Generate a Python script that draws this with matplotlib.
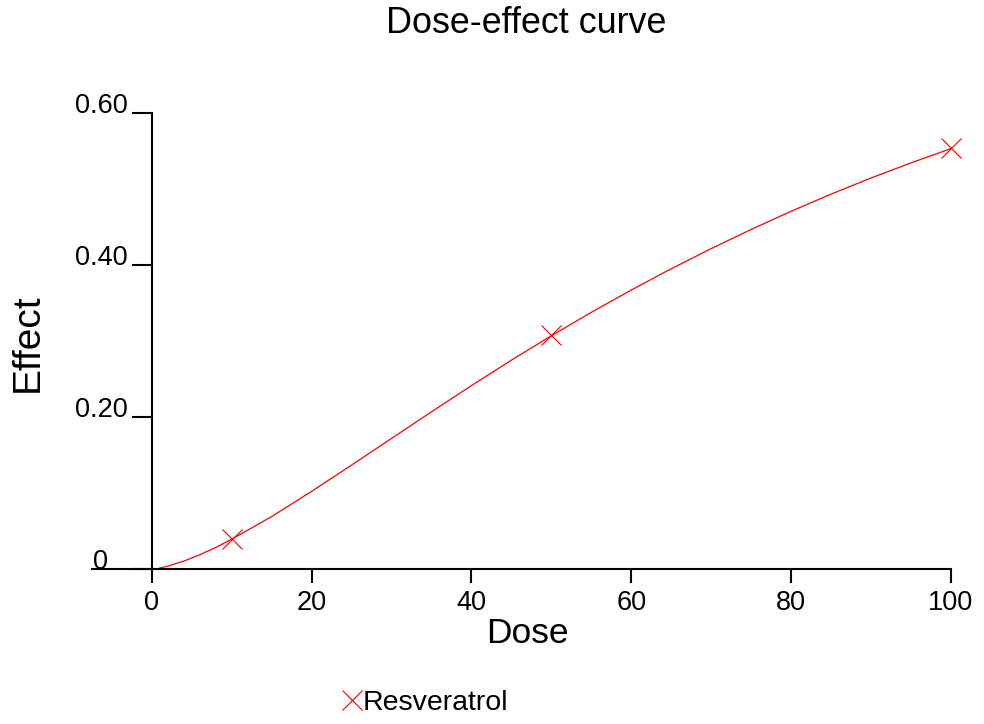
"""Dose-effect curve for resveratrol."""

import matplotlib
matplotlib.use("Agg")
import matplotlib.pyplot as plt
from matplotlib.lines import Line2D

plt.rcParams['font.family'] = ['Liberation Sans', 'DejaVu Sans']

# measured points
doses = [10, 50, 100]
effects = [0.039, 0.308, 0.554]

# fitted median-effect curve, read along the dose axis
curve_doses = [1, 2, 4, 6, 8, 10, 15, 20, 25, 30, 35, 40, 45, 50,
               55, 60, 65, 70, 75, 80, 85, 90, 95, 100]
curve_effects = [0.0013, 0.0037, 0.0103, 0.0187, 0.0283, 0.0391, 0.0690,
                 0.1021, 0.1367, 0.1718, 0.2068, 0.2413, 0.2748, 0.3069,
                 0.3377, 0.3671, 0.3951, 0.4216, 0.4468, 0.4707, 0.4933,
                 0.5145, 0.5344, 0.5532]

xticks = [0, 20, 40, 60, 80, 100]
yticks = [0, 0.20, 0.40, 0.60]
ytick_labels = ['0', '0.20', '0.40', '0.60']

color = '#ff0000'

fig = plt.figure(figsize=(9.84, 7.24), dpi=100)
ax = fig.add_axes([0.09324, 0.21409, 0.8732, 0.62983])

ax.plot(curve_doses, curve_effects, '-', color=color, lw=0.9,
        clip_on=False)
ax.plot(doses, effects, 'x', color=color, ms=14.4, mew=0.8,
        clip_on=False)

ax.set_xlim(-7.5, 100)
ax.set_ylim(0, 0.6)

for side in ('top', 'right'):
    ax.spines[side].set_visible(False)
ax.spines['left'].set_position(('data', 0))
ax.spines['left'].set_linewidth(1.5)
ax.spines['bottom'].set_linewidth(1.5)

ax.set_xticks(xticks)
ax.set_xticklabels([str(t) for t in xticks])
ax.tick_params(axis='x', direction='out', length=10, width=1.5,
               labelsize=19.5, pad=5)

ax.set_yticks(yticks)
ax.set_yticklabels([])
ax.tick_params(axis='y', direction='out', length=14.4, width=1.5)

# y tick labels sit on the tick, the zero one is pushed past the axis stub
ytrans = ax.get_yaxis_transform()
for val, txt in zip(yticks, ytick_labels):
    xpos = 0.0189 if val == 0 else 0.0422
    ax.text(xpos, val, txt, transform=ytrans, ha='right', va='baseline',
            fontsize=19.5)

ax.set_xlabel('Dose', fontsize=25.5)
ax.xaxis.label.set_va('baseline')
ax.xaxis.set_label_coords(0.5065, -0.1623)

ax.set_ylabel('Effect', fontsize=28)
ax.yaxis.label.set_va('center')
ax.yaxis.set_label_coords(-0.0742, 0.496)

fig.text(526 / 984, 1 - 33 / 724, 'Dose-effect curve', ha='center',
         va='baseline', fontsize=25.8)

handle = Line2D([], [], linestyle='none', marker='x', color=color,
                ms=14.4, mew=0.8)
fig.legend([handle], ['Resveratrol'], loc='center left',
           bbox_to_anchor=(0.3458, 0.029), frameon=False, fontsize=20.5,
           handlelength=0.8, handletextpad=0.0, borderpad=0,
           borderaxespad=0)

fig.savefig('out.png', dpi=100)
